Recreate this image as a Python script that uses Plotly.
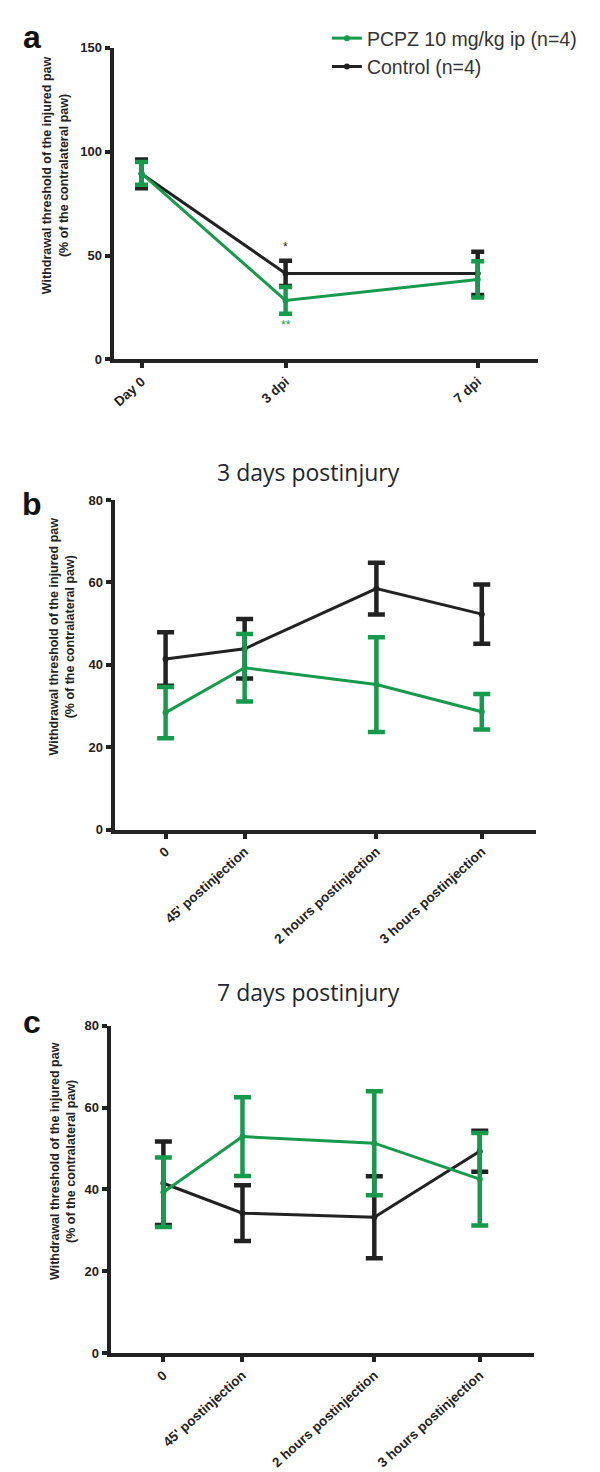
import plotly.graph_objects as go

# Panel a: days post injury
days = [0, 3, 7]
day_labels = ["Day 0", "3 dpi", "7 dpi"]
a_control = [89.3, 41.4, 41.4]
a_control_err = [6.9, 6.1, 10.4]
a_pcpz = [89.5, 28.4, 38.5]
a_pcpz_err = [5.5, 6.4, 8.7]

# Panels b and c: minutes after injection
minutes = [0, 45, 120, 180]
min_labels = ["0", "45' postinjection", "2 hours postinjection", "3 hours postinjection"]
b_control = [41.4, 43.9, 58.5, 52.3]
b_control_err = [6.5, 7.2, 6.3, 7.2]
b_pcpz = [28.4, 39.3, 35.2, 28.6]
b_pcpz_err = [6.2, 8.2, 11.5, 4.3]
c_control = [41.5, 34.2, 33.2, 49.3]
c_control_err = [10.2, 6.8, 10.0, 5.0]
c_pcpz = [39.3, 52.9, 51.3, 42.5]
c_pcpz_err = [8.5, 9.6, 12.7, 11.3]

GREEN = "#169b4c"
BLACK = "#222222"
ARIAL = "Liberation Sans, Arial, sans-serif"
H = 1472.0

fig = go.Figure()


def add_series(x, y, err, color, name, xa, ya, show, cap, rank):
    fig.add_trace(go.Scatter(
        x=x, y=y, name=name, mode="lines+markers",
        line=dict(color=color, width=3),
        marker=dict(color=color, size=6, symbol="circle"),
        error_y=dict(type="data", array=err, visible=True, color=color,
                     thickness=4.5, width=cap),
        xaxis=xa, yaxis=ya, showlegend=show, legendrank=rank,
    ))


add_series(days, a_control, a_control_err, BLACK, "Control (n=4)", "x", "y", True, 6.5, 2)
add_series(days, a_pcpz, a_pcpz_err, GREEN, "PCPZ 10 mg/kg ip (n=4)", "x", "y", True, 6.5, 1)
add_series(minutes, b_control, b_control_err, BLACK, "Control", "x2", "y2", False, 8.5, 2)
add_series(minutes, b_pcpz, b_pcpz_err, GREEN, "PCPZ", "x2", "y2", False, 8.5, 1)
add_series(minutes, c_control, c_control_err, BLACK, "Control", "x3", "y3", False, 8.5, 2)
add_series(minutes, c_pcpz, c_pcpz_err, GREEN, "PCPZ", "x3", "y3", False, 8.5, 1)

axis_common = dict(
    showline=True, linecolor=BLACK, linewidth=4, showgrid=False, zeroline=False,
    ticks="outside", ticklen=5, tickwidth=4, tickcolor=BLACK,
    tickfont=dict(family=ARIAL, size=13, color="#222222", weight="bold"),
)
xtick_font = dict(family=ARIAL, size=13.5, color="#222222", weight="bold")


def ypos(px):
    return 1 - px / H


fig.update_layout(
    width=600, height=1472,
    margin=dict(l=0, r=0, t=0, b=0),
    paper_bgcolor="white", plot_bgcolor="white",
    xaxis=dict(axis_common, domain=[104 / 600, 530 / 600], range=[-0.58, 8.26],
               tickvals=days, ticktext=day_labels, tickangle=-42, tickfont=xtick_font,
               anchor="y"),
    yaxis=dict(axis_common, domain=[ypos(348), ypos(33)], range=[0, 150],
               tickvals=[0, 50, 100, 150], anchor="x"),
    xaxis2=dict(axis_common, domain=[105 / 600, 528 / 600], range=[-29, 211],
                tickvals=minutes, ticktext=min_labels, tickangle=-42, tickfont=xtick_font,
                anchor="y2"),
    yaxis2=dict(axis_common, domain=[ypos(823), ypos(490)], range=[0, 80],
                tickvals=[0, 20, 40, 60, 80], anchor="x2"),
    xaxis3=dict(axis_common, domain=[101 / 600, 526 / 600], range=[-30, 211],
                tickvals=minutes, ticktext=min_labels, tickangle=-42, tickfont=xtick_font,
                anchor="y3"),
    yaxis3=dict(axis_common, domain=[ypos(1352), ypos(1021)], range=[0, 80],
                tickvals=[0, 20, 40, 60, 80], anchor="x3"),
    legend=dict(x=318 / 600, y=ypos(4), xanchor="left", yanchor="top",
                font=dict(family=ARIAL, size=19.5, color="#333333"),
                bgcolor="rgba(0,0,0,0)", itemwidth=30, tracegroupgap=0),
    showlegend=True,
)

ytitle = "Withdrawal threshold of the injured paw<br>(% of the contralateral paw)"
for cx, cy in [(46, 162), (52, 628), (53, 1158)]:
    fig.add_annotation(text=ytitle, xref="paper", yref="paper", x=cx / 600, y=ypos(cy),
                       textangle=-90, showarrow=False, xanchor="center", yanchor="middle",
                       font=dict(family=ARIAL, size=12.5, color="#222222", weight="bold"))

# panel letters
for letter, ly in [("a", 22), ("b", 494), ("c", 1017)]:
    fig.add_annotation(text=letter, xref="paper", yref="paper", x=22 / 600, y=ypos(ly),
                       showarrow=False, xanchor="center", yanchor="middle",
                       font=dict(family=ARIAL, size=32, color="#111111", weight="bold"))

# panel titles
for title, ty in [("3 days postinjury", 462), ("7 days postinjury", 987)]:
    fig.add_annotation(text=title, xref="paper", yref="paper", x=299 / 600, y=ypos(ty),
                       showarrow=False, xanchor="center", yanchor="middle",
                       font=dict(family="Open Sans, sans-serif", size=23, color="#25252d"))

# significance marks at 3 dpi
fig.add_annotation(text="*", x=3, y=54, xref="x", yref="y", showarrow=False,
                   font=dict(family=ARIAL, size=12, color=BLACK))
fig.add_annotation(text="**", x=3, y=16.5, xref="x", yref="y", showarrow=False,
                   font=dict(family=ARIAL, size=12, color=GREEN))

fig.write_html("out.html")
